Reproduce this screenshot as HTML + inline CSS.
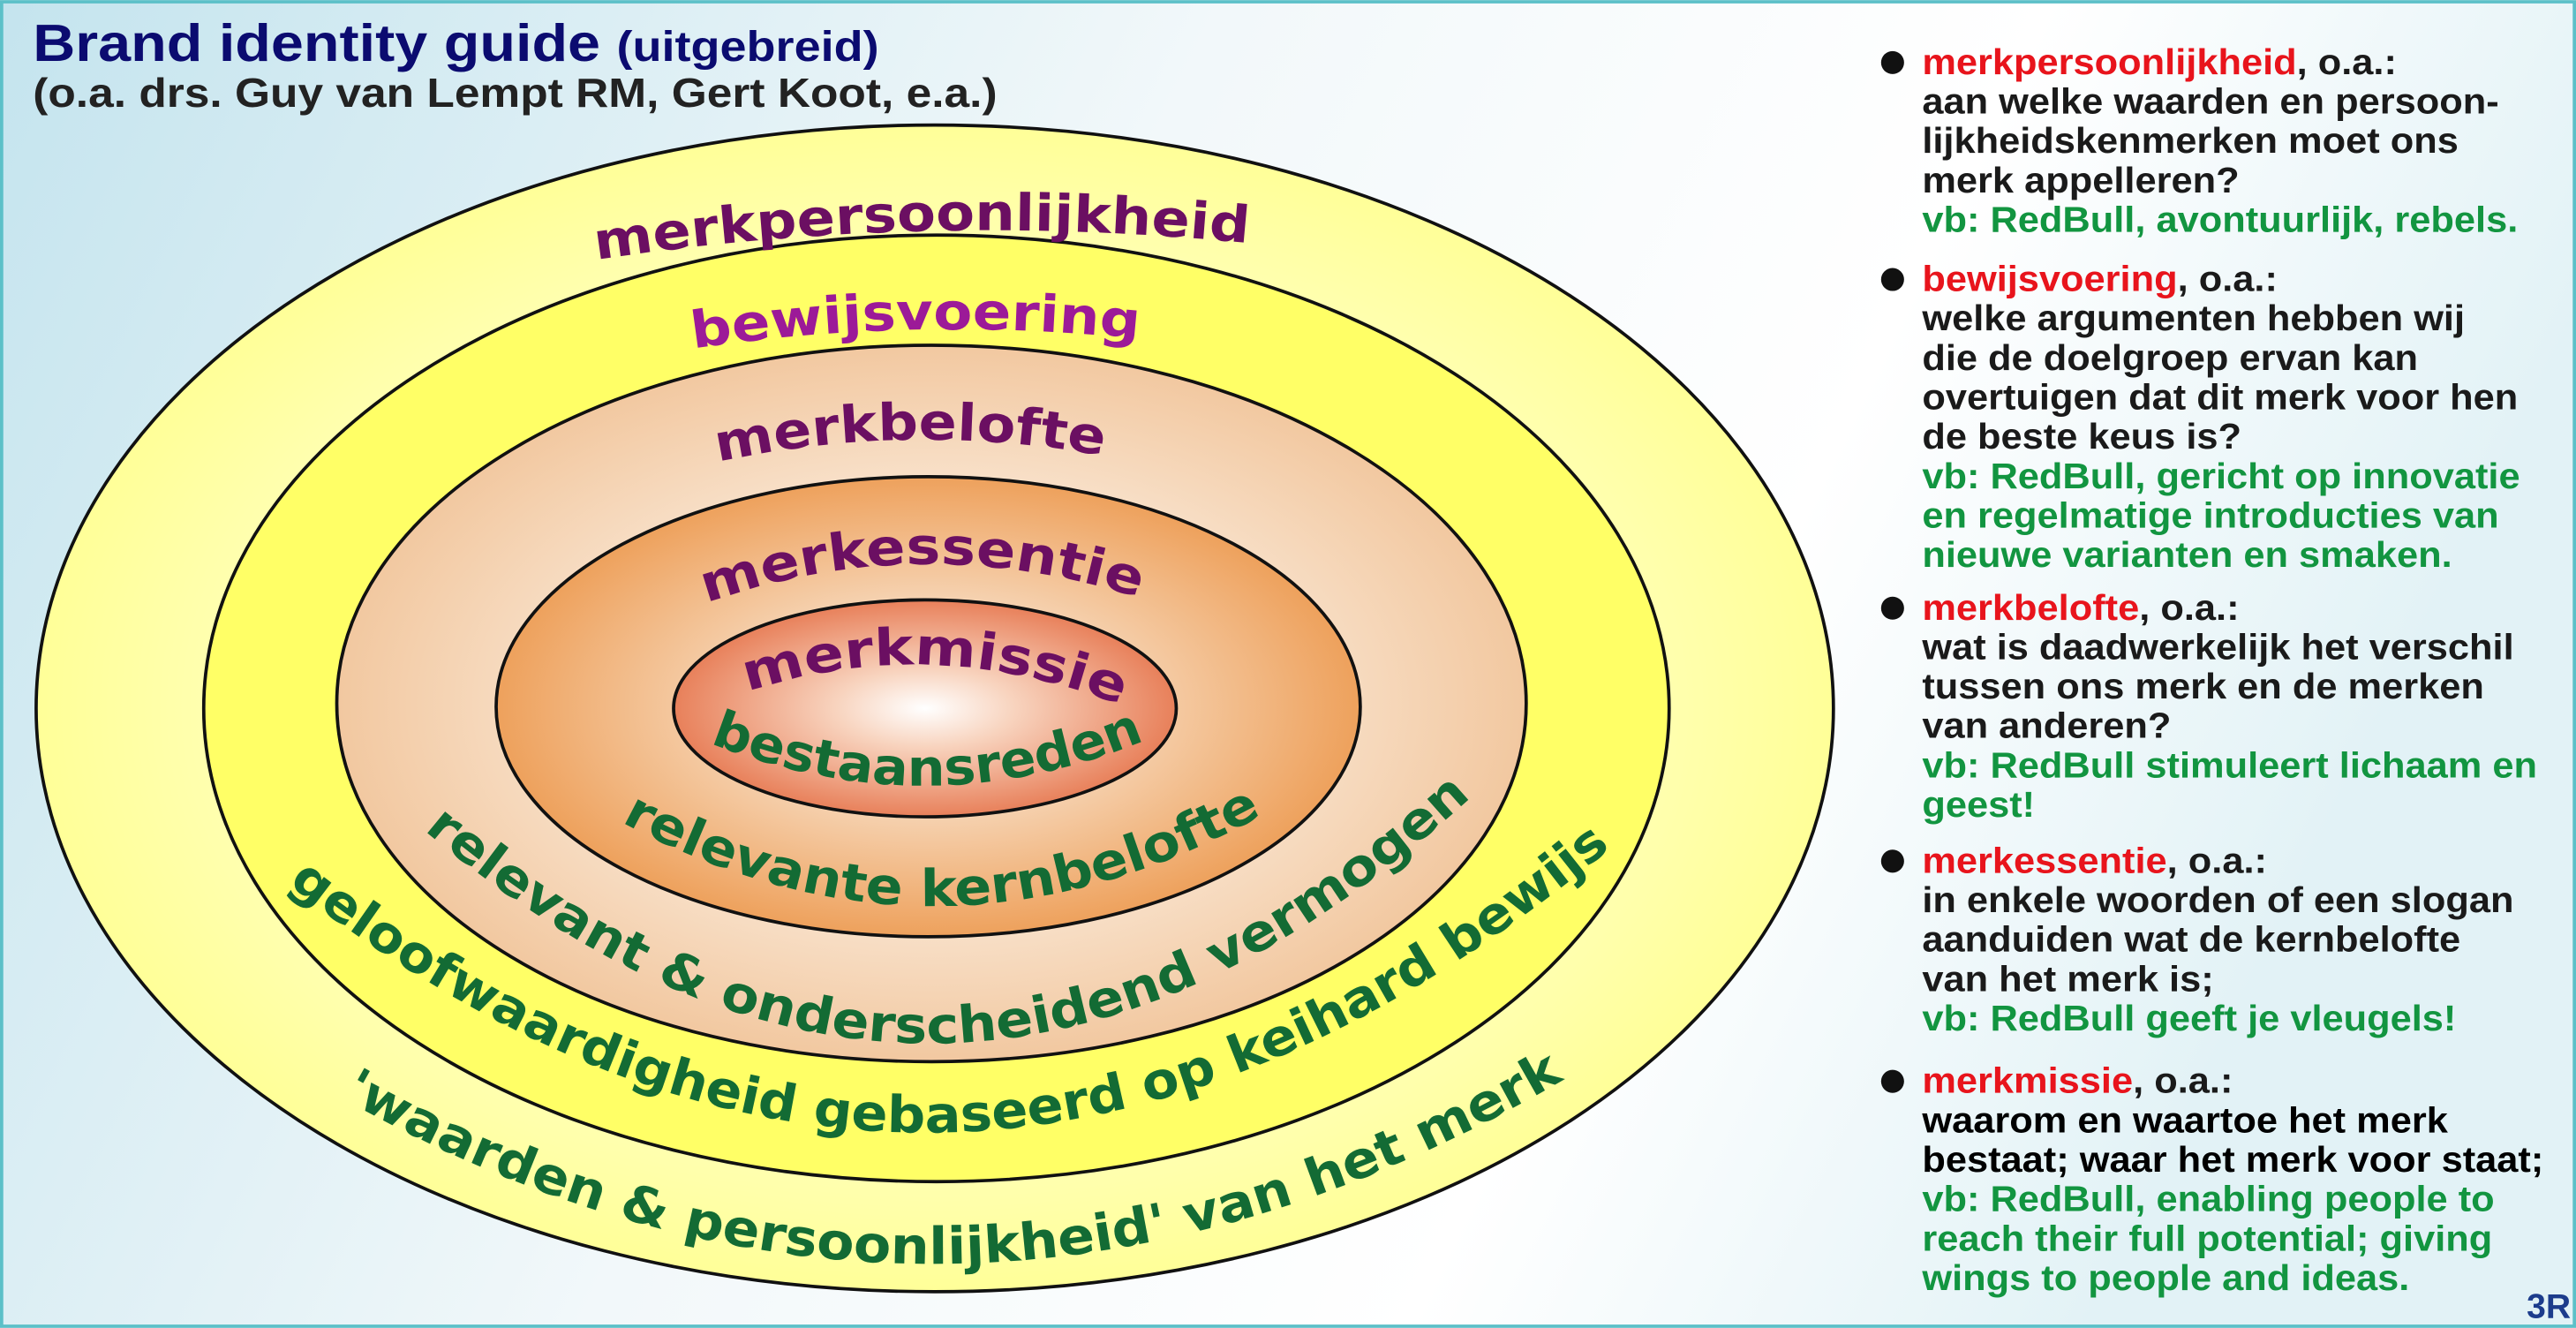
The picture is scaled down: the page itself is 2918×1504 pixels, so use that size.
<!DOCTYPE html>
<html><head><meta charset="utf-8"><style>
html,body{margin:0;padding:0;width:2918px;height:1504px;overflow:hidden}
svg{display:block}
.t{font-family:"DejaVu Sans","Liberation Sans",sans-serif;font-weight:bold;font-size:31px}
.p{font-family:"Liberation Sans",sans-serif;font-weight:bold;font-size:22px}
</style></head><body>
<svg width="2918" height="1504" viewBox="0 0 1568 808" xmlns="http://www.w3.org/2000/svg">
<defs>
<linearGradient id="bg" x1="0" y1="0" x2="1" y2="0.25">
<stop offset="0" stop-color="#c4e4ee"/><stop offset="0.45" stop-color="#f2f8fa"/><stop offset="0.75" stop-color="#ffffff"/><stop offset="1" stop-color="#e2f2f6"/></linearGradient>
<radialGradient id="g1" cx="0.5" cy="0.5" r="0.5"><stop offset="0.8" stop-color="#ffffb0"/><stop offset="1" stop-color="#ffff98"/></radialGradient>
<radialGradient id="g3" cx="0.5" cy="0.5" r="0.5"><stop offset="0.5" stop-color="#fae8d6"/><stop offset="1" stop-color="#f2c8a0"/></radialGradient>
<radialGradient id="g4" cx="0.5" cy="0.5" r="0.5"><stop offset="0.3" stop-color="#f8e2cc"/><stop offset="1" stop-color="#eea15c"/></radialGradient>
<radialGradient id="g5" cx="0.5" cy="0.5" r="0.5"><stop offset="0" stop-color="#ffffff"/><stop offset="0.35" stop-color="#f8d4bf"/><stop offset="1" stop-color="#e8805a"/></radialGradient>
<path id="p1" d="M363 158 Q560 128 762 148"/>
<path id="p2" d="M422 212 Q555 192 692 206"/>
<path id="p3" d="M437 281 Q553 256 670 277"/>
<path id="p4" d="M430 367 Q556 322 688 362"/>
<path id="p5" d="M455 421 Q563 385 677 427"/>
<path id="p6" d="M432 452 Q565 505 698 450"/>
<path id="p7" d="M378 500 Q572 605 770 495"/>
<path id="p8" d="M258 505 Q575 772 890 490"/>
<path id="p9" d="M175 538 Q575 850 978 518"/>
<path id="p10" d="M208 668 Q575 875 950 658"/>
</defs>
<rect x="0" y="0" width="1568" height="808" fill="url(#bg)"/>
<rect x="1" y="1" width="1566" height="806" fill="none" stroke="#5cc0c8" stroke-width="2"/>

<ellipse cx="569" cy="431" rx="547" ry="355" fill="url(#g1)" stroke="#111" stroke-width="2"/>
<ellipse cx="570" cy="431" rx="446" ry="288" fill="#ffff66" stroke="#111" stroke-width="2"/>
<ellipse cx="567" cy="428" rx="362" ry="218" fill="url(#g3)" stroke="#111" stroke-width="2"/>
<ellipse cx="565" cy="430" rx="263" ry="140" fill="url(#g4)" stroke="#111" stroke-width="2"/>
<ellipse cx="563" cy="431" rx="153" ry="66" fill="url(#g5)" stroke="#111" stroke-width="2"/>

<g class="t">
<text fill="#6b0f62"><textPath href="#p1" textLength="398" lengthAdjust="spacingAndGlyphs">merkpersoonlijkheid</textPath></text>
<text fill="#9c1a98"><textPath href="#p2" textLength="272" lengthAdjust="spacingAndGlyphs">bewijsvoering</textPath></text>
<text fill="#6b0f62"><textPath href="#p3" textLength="236" lengthAdjust="spacingAndGlyphs">merkbelofte</textPath></text>
<text fill="#6b0f62"><textPath href="#p4" textLength="268" lengthAdjust="spacingAndGlyphs">merkessentie</textPath></text>
<text fill="#6b0f62"><textPath href="#p5" textLength="232" lengthAdjust="spacingAndGlyphs">merkmissie</textPath></text>
<text fill="#136b34"><textPath href="#p6" textLength="272" lengthAdjust="spacingAndGlyphs">bestaansreden</textPath></text>
<text fill="#136b34"><textPath href="#p7" textLength="409" lengthAdjust="spacingAndGlyphs">relevante kernbelofte</textPath></text>
<text fill="#136b34"><textPath href="#p8" textLength="712" lengthAdjust="spacingAndGlyphs">relevant &amp; onderscheidend vermogen</textPath></text>
<text fill="#136b34"><textPath href="#p9" textLength="886" lengthAdjust="spacingAndGlyphs">geloofwaardigheid gebaseerd op keihard bewijs</textPath></text>
<text fill="#136b34"><textPath href="#p10" textLength="783" lengthAdjust="spacingAndGlyphs">'waarden &amp; persoonlijkheid' van het merk</textPath></text>
</g>

<text x="20" y="37" font-family="Liberation Sans,sans-serif" font-weight="bold" font-size="32" fill="#0b0b70" textLength="515" lengthAdjust="spacingAndGlyphs">Brand identity guide <tspan font-size="26">(uitgebreid)</tspan></text>
<text x="20" y="65" font-family="Liberation Sans,sans-serif" font-weight="bold" font-size="25" fill="#222" textLength="587" lengthAdjust="spacingAndGlyphs">(o.a. drs. Guy van Lempt RM, Gert Koot, e.a.)</text>

<g fill="#111">
<circle cx="1152" cy="38" r="7"/><circle cx="1152" cy="170" r="7"/><circle cx="1152" cy="370" r="7"/><circle cx="1152" cy="524" r="7"/><circle cx="1152" cy="658" r="7"/>
</g>
<g class="p" fill="#1a1a1a" transform="translate(1170 0) scale(1.06 1) translate(-1170 0)">
<text x="1170" y="45"><tspan fill="#e8141c">merkpersoonlijkheid</tspan>, o.a.:</text>
<text x="1170" y="69">aan welke waarden en persoon-</text>
<text x="1170" y="93">lijkheidskenmerken moet ons</text>
<text x="1170" y="117">merk appelleren?</text>
<text x="1170" y="141" fill="#129540">vb: RedBull, avontuurlijk, rebels.</text>

<text x="1170" y="177"><tspan fill="#e8141c">bewijsvoering</tspan>, o.a.:</text>
<text x="1170" y="201">welke argumenten hebben wij</text>
<text x="1170" y="225">die de doelgroep ervan kan</text>
<text x="1170" y="249">overtuigen dat dit merk voor hen</text>
<text x="1170" y="273">de beste keus is?</text>
<text x="1170" y="297" fill="#129540">vb: RedBull, gericht op innovatie</text>
<text x="1170" y="321" fill="#129540">en regelmatige introducties van</text>
<text x="1170" y="345" fill="#129540">nieuwe varianten en smaken.</text>

<text x="1170" y="377"><tspan fill="#e8141c">merkbelofte</tspan>, o.a.:</text>
<text x="1170" y="401">wat is daadwerkelijk het verschil</text>
<text x="1170" y="425">tussen ons merk en de merken</text>
<text x="1170" y="449">van anderen?</text>
<text x="1170" y="473" fill="#129540">vb: RedBull stimuleert lichaam en</text>
<text x="1170" y="497" fill="#129540">geest!</text>

<text x="1170" y="531"><tspan fill="#e8141c">merkessentie</tspan>, o.a.:</text>
<text x="1170" y="555">in enkele woorden of een slogan</text>
<text x="1170" y="579">aanduiden wat de kernbelofte</text>
<text x="1170" y="603">van het merk is;</text>
<text x="1170" y="627" fill="#129540">vb: RedBull geeft je vleugels!</text>

<text x="1170" y="665"><tspan fill="#e8141c">merkmissie</tspan>, o.a.:</text>
<text x="1170" y="689" fill="#000">waarom en waartoe het merk</text>
<text x="1170" y="713" fill="#000">bestaat; waar het merk voor staat;</text>
<text x="1170" y="737" fill="#129540">vb: RedBull, enabling people to</text>
<text x="1170" y="761" fill="#129540">reach their full potential; giving</text>
<text x="1170" y="785" fill="#129540">wings to people and ideas.</text>
</g>
<text x="1538" y="802" font-family="Liberation Sans,sans-serif" font-weight="bold" font-size="21" fill="#1c3c8c">3R</text>
</svg>
</body></html>
